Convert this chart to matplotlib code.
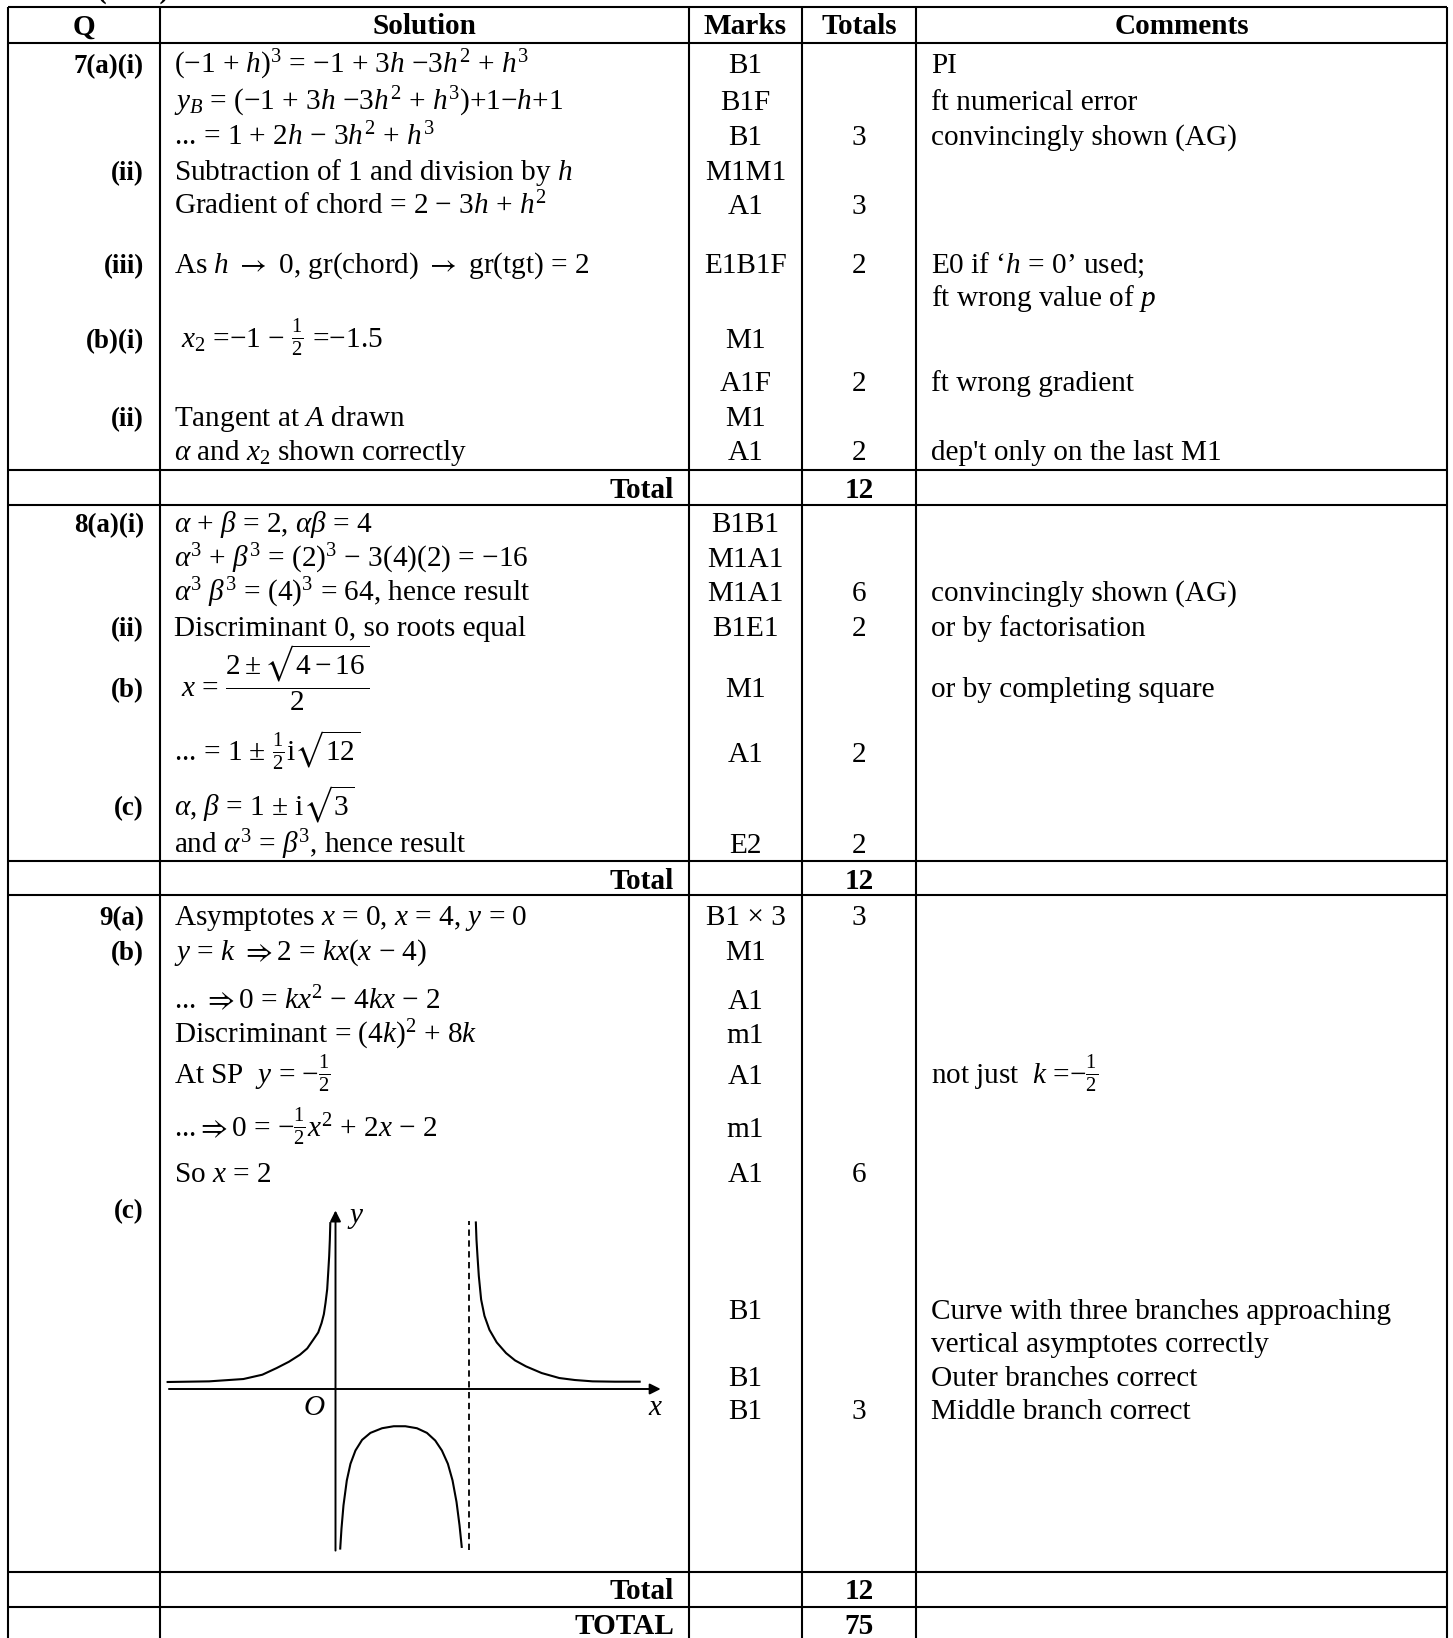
import matplotlib
matplotlib.use("Agg")
import matplotlib.pyplot as plt

# fonts: Times-like serif for text and maths
plt.rcParams['font.family'] = ['Liberation Serif', 'DejaVu Serif']
plt.rcParams['mathtext.fontset'] = 'custom'
plt.rcParams['mathtext.rm'] = 'Liberation Serif'
plt.rcParams['mathtext.it'] = 'Liberation Serif:italic'
plt.rcParams['mathtext.bf'] = 'Liberation Serif:bold'
plt.rcParams['mathtext.sf'] = 'STIXGeneral'   # used for the arrows
plt.rcParams['mathtext.fallback'] = 'stix'

W, H, DPI = 1453, 1638, 100
FS = 21.1

RA = r"$\mathsf{\rightarrow}$"
IMP = r"$\mathsf{\Rightarrow}$"

## table content
headers = ["Q", "Solution", "Marks", "Totals", "Comments"]

q_labels = ["7(a)(i)", "", "", "(ii)", "", "(iii)", "", "(b)(i)", "", "(ii)", "",
            "8(a)(i)", "", "", "(ii)", "(b)", "", "(c)", "",
            "9(a)", "(b)", "", "", "", "", "", "(c)", "", "", "", ""]

solutions = [
    "(−1 + $h$$)^3$ = −1 + 3$h$ −3$h^2$ + $h^3$",
    "$y_B$ = (−1 + 3$h$ −3$h^2$ + $h^3$)+1−$h$+1",
    "... = 1 + 2$h$ − 3$h^2$ + $h^3$",
    "Subtraction of 1 and division by $h$",
    "Gradient of chord = 2 − 3$h$ + $h^2$",
    "As $h$ " + RA + " 0, gr(chord) " + RA + " gr(tgt) = 2",
    "",
    r" $x_2$ =−1 − $\frac{1}{2}$ =−1.5",
    "",
    "Tangent at $A$ drawn",
    r"$\alpha$ and $x_2$ shown correctly",
    r"$\alpha$ + $\beta$ = 2, $\alpha\beta$ = 4",
    r"$\alpha^3$ + $\beta^3$ = (2$)^3$ − 3(4)(2) = −16",
    r"$\alpha^3$ $\beta^3$ = (4$)^3$ = 64, hence result",
    "Discriminant 0, so roots equal",
    r" $x$ = $\dfrac{2 \pm \sqrt{4 - 16}}{2}$",
    r"... = 1 ± $\frac{1}{2}$i$\sqrt{12}$",
    r"$\alpha$, $\beta$ = 1 ± i$\sqrt{3}$",
    r"and $\alpha^3$ = $\beta^3$, hence result",
    "Asymptotes $x$ = 0, $x$ = 4, $y$ = 0",
    "$y$ = $k$ " + IMP + "2 = $kx$($x$ − 4)",
    "... " + IMP + "0 = $kx^2$ − 4$kx$ − 2",
    "Discriminant = (4$k$$)^2$ + 8$k$",
    r"At SP  $y$ = −$\frac{1}{2}$",
    "..." + IMP + r"0 = −$\frac{1}{2}$$x^2$ + 2$x$ − 2",
    "So $x$ = 2",
    "", "", "", "", "",
]

marks = ["B1", "B1F", "B1", "M1M1", "A1", "E1B1F", "", "M1", "A1F", "M1", "A1",
         "B1B1", "M1A1", "M1A1", "B1E1", "M1", "A1", "", "E2",
         "B1 × 3", "M1", "A1", "m1", "A1", "m1", "A1", "", "B1", "", "B1", "B1"]

totals = ["", "", "3", "", "3", "2", "", "", "2", "", "2",
          "", "", "6", "2", "", "2", "", "2",
          "3", "", "", "", "", "", "6", "", "", "", "", "3"]

comments = ["PI", "ft numerical error", "convincingly shown (AG)", "", "",
            "E0 if ‘$h$ = 0’ used;", "ft wrong value of $p$", "", "ft wrong gradient", "",
            "dep't only on the last M1",
            "", "", "convincingly shown (AG)", "or by factorisation",
            "or by completing square", "", "", "",
            "", "", "", "", r"not just  $k$ =−$\frac{1}{2}$", "", "", "",
            "Curve with three branches approaching", "vertical asymptotes correctly",
            "Outer branches correct", "Middle branch correct"]

total_labels = ["Total", "Total", "Total", "TOTAL"]
total_values = ["12", "12", "12", "75"]

## sketch of the curve (graph units)
left_x = [-5.08, -3.80, -2.77, -2.20, -1.77, -1.40, -1.07, -0.85, -0.67, -0.52, -0.42,
          -0.35, -0.30, -0.25, -0.22, -0.19, -0.17, -0.155]
left_y = [0.21, 0.23, 0.30, 0.43, 0.63, 0.82, 1.03, 1.22, 1.48, 1.70, 1.98,
          2.25, 2.59, 3.00, 3.49, 4.00, 4.49, 5.02]
right_x = [4.22, 4.24, 4.27, 4.31, 4.38, 4.48, 4.63, 4.85, 5.13, 5.40, 5.73, 6.20,
           6.73, 7.20, 7.73, 8.40, 9.18]
right_y = [5.04, 4.49, 4.00, 3.40, 2.69, 2.20, 1.78, 1.40, 1.08, 0.86, 0.68, 0.48,
           0.33, 0.27, 0.23, 0.22, 0.22]
mid_x = [0.14, 0.18, 0.24, 0.34, 0.45, 0.60, 0.80, 1.05, 1.40, 1.75, 2.10, 2.45,
         2.75, 3.00, 3.20, 3.38, 3.52, 3.64, 3.73, 3.80]
mid_y = [-4.83, -4.20, -3.50, -2.75, -2.25, -1.85, -1.53, -1.32, -1.18, -1.12, -1.12,
         -1.18, -1.32, -1.55, -1.85, -2.25, -2.75, -3.40, -4.10, -4.78]
asymptote_x = 4.0

# layout (pixels, top-left origin)
col_x = [7.5, 160, 689, 802, 916, 1447]
row_lines = [7, 43, 470, 505, 861, 895, 1572, 1607, 1643]
line_y = [65, 102, 137, 172, 206, 265, 298, 340, 383, 418, 452,
          524, 559, 593, 628, 689, 754, 807, 845,
          917, 952, 1001, 1035, 1076, 1129, 1174, 1210, 1311, 1344, 1378, 1411]
total_y = [489, 880, 1590, 1625]
BASE = 8  # centre -> baseline

fig = plt.figure(figsize=(W / DPI, H / DPI), dpi=DPI)
ax = fig.add_axes([0, 0, 1, 1])
ax.set_xlim(0, W)
ax.set_ylim(H, 0)
ax.axis('off')

# grid
ax.vlines(col_x, row_lines[0], row_lines[-1], color='black', lw=1.5)
ax.hlines(row_lines, col_x[0], col_x[-1], color='black', lw=1.5)

# heading clipped by the top edge, as in the scan
ax.text(97, -2, "(cont)", ha='left', va='baseline', fontsize=FS, fontweight='bold')

# header
for i, h in enumerate(headers):
    cx = (col_x[i] + col_x[i + 1]) / 2
    ax.text(cx, 25 + 9.5, h, ha='center', va='baseline', fontsize=FS, fontweight='bold')

mark_cx = (col_x[2] + col_x[3]) / 2
tot_cx = (col_x[3] + col_x[4]) / 2
for y, q, s, m, t, c in zip(line_y, q_labels, solutions, marks, totals, comments):
    yb = y + BASE
    if q:
        ax.text(144, yb, q, ha='right', va='baseline', fontsize=FS * 0.92, fontweight='bold')
    if s:
        ax.text(174, yb, s, ha='left', va='baseline', fontsize=FS)
    if m:
        ax.text(mark_cx, yb, m, ha='center', va='baseline', fontsize=FS)
    if t:
        ax.text(tot_cx, yb, t, ha='center', va='baseline', fontsize=FS)
    if c:
        ax.text(931, yb, c, ha='left', va='baseline', fontsize=FS)

for y, lab, val in zip(total_y, total_labels, total_values):
    ax.text(674, y + 9, lab, ha='right', va='baseline', fontsize=FS, fontweight='bold')
    ax.text(tot_cx, y + 9, val, ha='center', va='baseline', fontsize=FS, fontweight='bold')

# graph sketch in its own axes
ox, oy, unit = 335.5, 1389, 33.25
gx0, gx1, gy0, gy1 = -5.25, 10.6, -5.4, 5.7
axg = fig.add_axes([(ox + gx0 * unit) / W, (H - (oy - gy0 * unit)) / H,
                    (gx1 - gx0) * unit / W, (gy1 - gy0) * unit / H])
axg.set_xlim(gx0, gx1)
axg.set_ylim(gy0, gy1)
axg.axis('off')
axg.patch.set_alpha(0)

arrow = dict(arrowstyle='-|>', lw=1.4, color='black', mutation_scale=16, shrinkA=0, shrinkB=0)
axg.annotate("", xy=(9.78, 0), xytext=(-5.01, 0), arrowprops=arrow)
axg.annotate("", xy=(0, 5.37), xytext=(0, -4.86), arrowprops=arrow)
axg.plot([asymptote_x, asymptote_x], [-4.83, 5.04], color='black', lw=1.3, ls=(0, (3.5, 2.5)))

for bx, by in [(left_x, left_y), (right_x, right_y), (mid_x, mid_y)]:
    axg.plot(bx, by, color='black', lw=1.5, solid_joinstyle='round', solid_capstyle='butt')

axg.text(0.6, 5.14, "$y$", ha='center', va='center', fontsize=FS)
axg.text(-0.63, -0.57, "$O$", ha='center', va='center', fontsize=FS)
axg.text(9.62, -0.57, "$x$", ha='center', va='center', fontsize=FS)

fig.savefig("out.png", dpi=DPI)
